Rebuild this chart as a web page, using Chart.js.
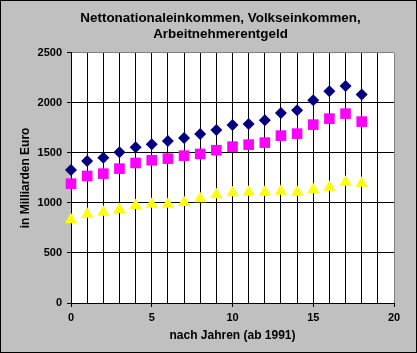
<!DOCTYPE html>
<html>
<head>
<meta charset="utf-8">
<script src="https://cdn.jsdelivr.net/npm/chart.js@4"></script>
<style>
  body { margin: 0; }
  #wrap { width: 417px; height: 353px; box-sizing: border-box; border: 1px solid #000; background: #C0C0C0; }
  canvas { display: block; }
</style>
</head>
<body>
<div id="wrap"><canvas id="myChart" width="415" height="351"></canvas></div>
<script>
const ctx = document.getElementById("myChart").getContext("2d");

// Jahre ab 1991 (0 = 1991)
const years = [0, 1, 2, 3, 4, 5, 6, 7, 8, 9, 10, 11, 12, 13, 14, 15, 16, 17, 18];
const nettonationaleinkommen = [1330, 1420, 1453, 1507, 1557, 1587, 1620, 1650, 1690, 1730, 1780, 1790, 1827, 1900, 1927, 2027, 2117, 2170, 2083];
const volkseinkommen = [1193, 1270, 1293, 1343, 1400, 1427, 1443, 1473, 1490, 1527, 1563, 1583, 1603, 1673, 1693, 1783, 1843, 1893, 1813];
const arbeitnehmerentgeld = [832, 888, 908, 935, 975, 988, 988, 1005, 1042, 1082, 1102, 1108, 1108, 1118, 1108, 1132, 1158, 1208, 1198];

const titleLines = ["Nettonationaleinkommen, Volkseinkommen,", "Arbeitnehmerentgeld"];
const xTitle = "nach Jahren (ab 1991)";
const yTitle = "in Milliarden Euro";

const fontFamily = "'Liberation Sans', Arial, sans-serif";

function points(values) {
    return years.map((x, i) => ({ x: x, y: values[i] }));
}

const data = {
    datasets: [
        {
            label: "Nettonationaleinkommen",
            data: points(nettonationaleinkommen),
            pointStyle: "rectRot",
            pointRadius: 6,
            backgroundColor: "#000080",
            borderColor: "#000080",
            borderWidth: 0,
            clip: false,
        },
        {
            label: "Volkseinkommen",
            data: points(volkseinkommen),
            pointStyle: "rect",
            pointRadius: 7.5,
            backgroundColor: "#FF00FF",
            borderColor: "#FF00FF",
            borderWidth: 0,
            clip: false,
        },
        {
            label: "Arbeitnehmerentgeld",
            data: points(arbeitnehmerentgeld),
            pointStyle: "triangle",
            pointRadius: 7,
            backgroundColor: "#FFFF00",
            borderColor: "#FFFF00",
            borderWidth: 0,
            clip: false,
        },
    ],
};

// white plot area, title nudged right like the original
const plotBackground = {
    id: "plotBackground",
    afterLayout(chart) {
        if (chart.titleBlock) {
            chart.titleBlock.left += 23;
            chart.titleBlock.right += 23;
        }
    },
    beforeDraw(chart) {
        const { ctx, chartArea: a } = chart;
        ctx.save();
        ctx.fillStyle = "#fff";
        ctx.fillRect(a.left, a.top, a.right - a.left, a.bottom - a.top);
        ctx.restore();
    },
};

const config = {
    type: "scatter",
    data: data,
    plugins: [plotBackground],
    options: {
        responsive: false,
        animation: false,
        layout: { padding: { left: 0, right: 22, top: 0, bottom: 0 } },
        plugins: {
            legend: { display: false },
            tooltip: { enabled: false },
            title: {
                display: true,
                text: titleLines,
                color: "#000",
                font: { family: fontFamily, size: 13.4, weight: "bold", lineHeight: 1.19 },
                padding: { top: 9, bottom: 11 },
            },
        },
        scales: {
            x: {
                type: "linear",
                min: 0,
                max: 20,
                afterFit: (scale) => { scale.height = 49; },
                ticks: {
                    stepSize: 1,
                    autoSkip: false,
                    maxRotation: 0,
                    color: "#000",
                    padding: 4,
                    font: { family: fontFamily, size: 11, weight: "bold" },
                    callback: (value) => (value % 5 === 0 ? String(value) : ""),
                },
                grid: {
                    color: (c) => (c.tick && c.tick.value === 20 ? "#808080" : "#000"),
                    tickColor: (c) => (c.tick && c.tick.value % 5 === 0 ? "#000" : "rgba(0,0,0,0)"),
                    tickLength: 4,
                    lineWidth: 1,
                },
                border: { color: "#000", width: 1 },
                title: {
                    display: true,
                    text: xTitle,
                    color: "#000",
                    font: { family: fontFamily, size: 12, weight: "bold" },
                    padding: { top: 0, bottom: 9 },
                },
            },
            y: {
                min: 0,
                max: 2500,
                afterFit: (scale) => { scale.width = 70; },
                ticks: {
                    stepSize: 500,
                    color: "#000",
                    padding: 5,
                    font: { family: fontFamily, size: 11, weight: "bold" },
                    callback: (value) => String(value),
                },
                grid: {
                    color: (c) => (c.tick && c.tick.value === 2500 ? "#808080" : "#000"),
                    tickColor: "#000",
                    tickLength: 4,
                    lineWidth: 1,
                },
                border: { color: "#000", width: 1 },
                title: {
                    display: true,
                    text: yTitle,
                    color: "#000",
                    font: { family: fontFamily, size: 12, weight: "bold" },
                    padding: { top: 17, bottom: 0 },
                },
            },
        },
    },
};

const myChart = new Chart(ctx, config);
</script>
</body>
</html>
